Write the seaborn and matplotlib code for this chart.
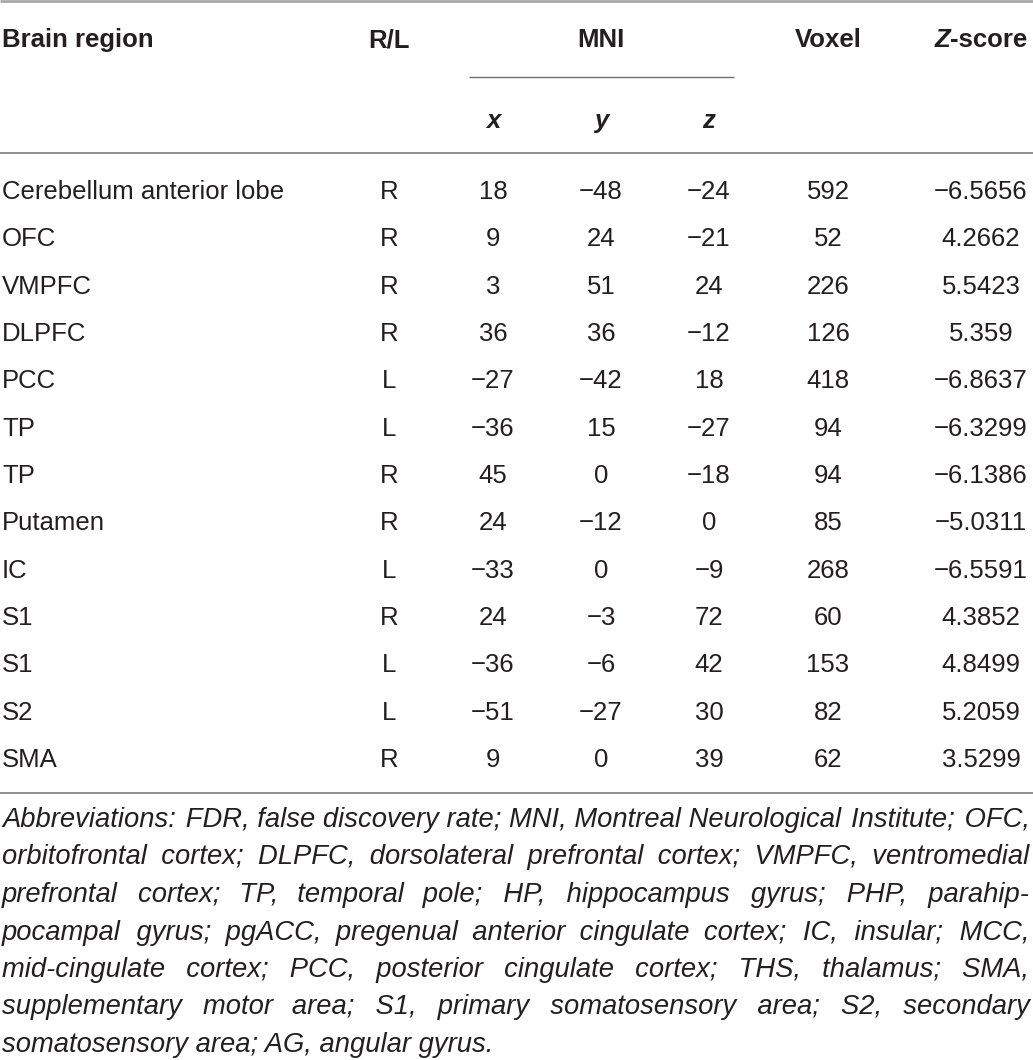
import pandas as pd
import numpy as np
import matplotlib
matplotlib.use("Agg")
import matplotlib.pyplot as plt
import seaborn as sns

# table data
regions = ["Cerebellum anterior lobe", "OFC", "VMPFC", "DLPFC", "PCC", "TP", "TP",
           "Putamen", "IC", "S1", "S1", "S2", "SMA"]
sides = ["R", "R", "R", "R", "L", "L", "R", "R", "L", "R", "L", "L", "R"]
mni_x = [18, 9, 3, 36, -27, -36, 45, 24, -33, 24, -36, -51, 9]
mni_y = [-48, 24, 51, 36, -42, 15, 0, -12, 0, -3, -6, -27, 0]
mni_z = [-24, -21, 24, -12, 18, -27, -18, 0, -9, 72, 42, 30, 39]
voxels = [592, 52, 226, 126, 418, 94, 94, 85, 268, 60, 153, 82, 62]
zscores = [-6.5656, 4.2662, 5.5423, 5.359, -6.8637, -6.3299, -6.1386, -5.0311,
           -6.5591, 4.3852, 4.8499, 5.2059, 3.5299]

headers = ["Brain region", "R/L", "MNI", "Voxel"]
sub_headers = ["x", "y", "z"]

footnote = [
    "Abbreviations: FDR, false discovery rate; MNI, Montreal Neurological Institute; OFC,",
    "orbitofrontal cortex; DLPFC, dorsolateral prefrontal cortex; VMPFC, ventromedial",
    "prefrontal cortex; TP, temporal pole; HP, hippocampus gyrus; PHP, parahip-",
    "pocampal gyrus; pgACC, pregenual anterior cingulate cortex; IC, insular; MCC,",
    "mid-cingulate cortex; PCC, posterior cingulate cortex; THS, thalamus; SMA,",
    "supplementary motor area; S1, primary somatosensory area; S2, secondary",
    "somatosensory area; AG, angular gyrus.",
]

df = pd.DataFrame({"region": regions, "side": sides, "x": mni_x, "y": mni_y,
                   "z": mni_z, "voxel": voxels, "zscore": zscores})


def fmt(v):
    return str(v).replace("-", "\u2212")


sns.set_theme(style="white")
plt.rcParams["font.family"] = ["Liberation Sans", "DejaVu Sans"]

W, H = 1033, 1060
fig = plt.figure(figsize=(W / 100, H / 100), dpi=100)
ax = fig.add_axes([0, 0, 1, 1])
ax.set_xlim(0, W)
ax.set_ylim(H, 0)
ax.axis("off")
renderer = fig.canvas.get_renderer()

ink = "#231f20"
fs = 18.5
left, right = 2, 1030
col_side, col_x, col_y, col_z, col_vox, col_zs = 389, 493, 601, 709, 828, 981

# rules
ax.hlines(1, 0, W, color="#a0a0a0", lw=1.8)
ax.hlines(77, 469, 734, color="#707070", lw=1.0)
ax.hlines(153, 0, W, color="#707070", lw=1.1)
ax.hlines(793, 0, W, color="#707070", lw=1.1)

# header
hb = 47
ax.text(left, hb, headers[0], fontsize=fs, fontweight="bold", color=ink, va="baseline")
ax.text(col_side, hb, headers[1], fontsize=fs, fontweight="bold", color=ink, va="baseline", ha="center")
ax.text(601, hb, headers[2], fontsize=fs, fontweight="bold", color=ink, va="baseline", ha="center")
ax.text(col_vox, hb, headers[3], fontsize=fs, fontweight="bold", color=ink, va="baseline", ha="center")

tz = ax.text(0, hb, "Z", fontsize=fs, fontweight="bold", fontstyle="italic", color=ink, va="baseline")
ts = ax.text(0, hb, "-score", fontsize=fs, fontweight="bold", color=ink, va="baseline")
wz = tz.get_window_extent(renderer).width
wsc = ts.get_window_extent(renderer).width
x0 = col_zs - (wz + wsc) / 2
tz.set_x(x0)
ts.set_x(x0 + wz)

for cx, lab in zip([col_x, col_y, col_z], sub_headers):
    ax.text(cx, 128, lab, fontsize=fs, fontweight="bold", fontstyle="italic",
            color=ink, va="baseline", ha="center")

# body rows
row0, step = 199, 47.33
for i, r in df.iterrows():
    yb = round(row0 + i * step)
    ax.text(left, yb, r["region"], fontsize=fs, color=ink, va="baseline")
    for cx, val in zip([col_side, col_x, col_y, col_z, col_vox, col_zs],
                       [r["side"], r["x"], r["y"], r["z"], r["voxel"], r["zscore"]]):
        ax.text(cx, yb, fmt(val), fontsize=fs, color=ink, va="baseline", ha="center")


# footnote: one text per line, justified by padding the word gaps with hair spaces
def measure(s, size):
    t = ax.text(0, 0, s, fontsize=size, fontstyle="italic")
    w = t.get_window_extent(renderer).width
    t.remove()
    return w


widest = max(measure(s, 10) for s in footnote)
ffs = 10 * (right - left - 4) / widest
HAIR = "\u200a"
hair_w = measure("a" + HAIR * 10 + "a", ffs) - measure("aa", ffs)
hair_w /= 10

fb, fstep = 827, 37.5
for j, line in enumerate(footnote):
    yb = round(fb + j * fstep)
    words = line.split(" ")
    text = line
    if j < len(footnote) - 1 and len(words) > 1 and hair_w > 0:
        extra = (right - left) - measure(line, ffs)
        n_gaps = len(words) - 1
        total = max(0, int(round(extra / hair_w)))
        counts = [total // n_gaps + (1 if k < total % n_gaps else 0) for k in range(n_gaps)]
        # spread the leftover hair spaces evenly rather than front-loading them
        order = np.argsort([(k * 7919) % n_gaps for k in range(n_gaps)])
        counts = [counts[int(np.where(order == k)[0][0])] for k in range(n_gaps)]
        text = words[0]
        for w, c in zip(words[1:], counts):
            text += " " + HAIR * c + w
    ax.text(left, yb, text, fontsize=ffs, fontstyle="italic", color=ink, va="baseline")

fig.savefig("out.png", dpi=100)
